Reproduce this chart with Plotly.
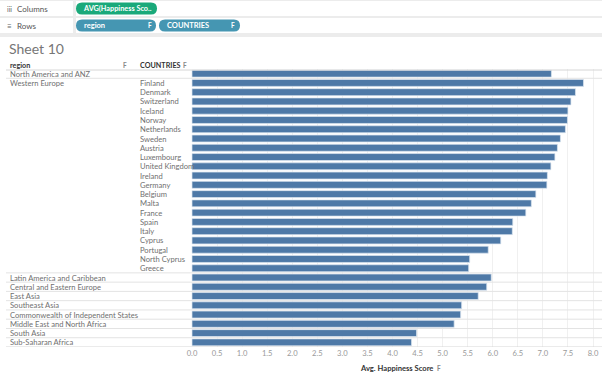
import plotly.graph_objects as go

# ---------------- data ----------------
row_keys = [
    "North America and ANZ",
    "Finland", "Denmark", "Switzerland", "Iceland", "Norway", "Netherlands",
    "Sweden", "Austria", "Luxembourg", "United Kingdom", "Ireland", "Germany",
    "Belgium", "Malta", "France", "Spain", "Italy", "Cyprus", "Portugal",
    "North Cyprus", "Greece",
    "Latin America and Caribbean", "Central and Eastern Europe", "East Asia",
    "Southeast Asia", "Commonwealth of Independent States",
    "Middle East and North Africa", "South Asia", "Sub-Saharan Africa",
]
region_labels = [
    "North America and ANZ", "Western Europe", "", "", "", "", "", "", "", "",
    "", "", "", "", "", "", "", "", "", "", "", "",
    "Latin America and Caribbean", "Central and Eastern Europe", "East Asia",
    "Southeast Asia", "Commonwealth of Independent States",
    "Middle East and North Africa", "South Asia", "Sub-Saharan Africa",
]
country_labels = [
    "",
    "Finland", "Denmark", "Switzerland", "Iceland", "Norway", "Netherlands",
    "Sweden", "Austria", "Luxembourg", "United Kingdom", "Ireland", "Germany",
    "Belgium", "Malta", "France", "Spain", "Italy", "Cyprus", "Portugal",
    "North Cyprus", "Greece",
    "", "", "", "", "", "", "", "",
]
avg_scores = [
    7.17,
    7.81, 7.65, 7.56, 7.50, 7.49, 7.45, 7.35, 7.29, 7.24, 7.16, 7.09, 7.08,
    6.86, 6.77, 6.66, 6.40, 6.39, 6.16, 5.91, 5.54, 5.52,
    5.97, 5.88, 5.71, 5.38, 5.36, 5.23, 4.48, 4.38,
]
tick_vals = [0.0, 0.5, 1.0, 1.5, 2.0, 2.5, 3.0, 3.5, 4.0, 4.5, 5.0, 5.5, 6.0, 6.5, 7.0, 7.5, 8.0]
group_breaks = [0.5, 21.5, 22.5, 23.5, 24.5, 25.5, 26.5, 27.5, 28.5]

# ---------------- geometry ----------------
FW, FH = 602, 380
L, R, T, B = 191, 2, 69, 33
PW, PH = FW - L - R, FH - T - B


def px(x):
    return (x - L) / PW


def py(y):
    return (FH - B - y) / PH


FONT = "Lato, 'Open Sans', sans-serif"
TXT = "#707070"
LBL = 7.6

fig = go.Figure()
fig.add_trace(go.Bar(
    x=avg_scores, y=row_keys, orientation="h",
    marker=dict(color="#4e79a7", line=dict(color="rgba(220,230,240,0.9)", width=0.8)),
    hoverinfo="skip",
))

shapes = []
annos = []


def rect(x0, y0, x1, y1, fill, line=None, lw=0):
    shapes.append(dict(type="rect", xref="paper", yref="paper",
                       x0=px(x0), x1=px(x1), y0=py(y0), y1=py(y1),
                       fillcolor=fill, line=dict(color=line or fill, width=lw),
                       layer="below"))


def pill(x0, y0, x1, y1, color):
    r = (y1 - y0) / 2
    ym = (y0 + y1) / 2

    def p(a, b):
        return f"{px(a):.5f},{py(b):.5f}"
    path = (f"M{p(x0 + r, y0)} L{p(x1 - r, y0)} Q{p(x1, y0)} {p(x1, ym)} "
            f"Q{p(x1, y1)} {p(x1 - r, y1)} L{p(x0 + r, y1)} Q{p(x0, y1)} {p(x0, ym)} "
            f"Q{p(x0, y0)} {p(x0 + r, y0)} Z")
    shapes.append(dict(type="path", xref="paper", yref="paper", path=path,
                       fillcolor=color, line=dict(color=color, width=0)))


def text(x, y, s, size=LBL, color=TXT, anchor="left", bold=False, family=FONT):
    if bold:
        s = f"<b>{s}</b>"
    annos.append(dict(xref="paper", yref="paper", x=px(x), y=py(y), text=s,
                      showarrow=False, xanchor=anchor, yanchor="middle",
                      font=dict(size=size, color=color, family=family)))


def hline(x0, x1, y, color, w=1):
    shapes.append(dict(type="line", xref="paper", yref="paper",
                       x0=px(x0), x1=px(x1), y0=py(y), y1=py(y),
                       line=dict(color=color, width=w)))


# shelf chrome
rect(0, 0, FW, 37, "#ececec")
rect(0, 1, 73, 16, "#ffffff")
rect(76, 1, FW, 16, "#ffffff")
rect(0, 18, 73, 33, "#ffffff")
rect(76, 18, FW, 33, "#ffffff")
text(5, 8.5, "iii", size=7, color="#666")
text(15, 8.5, "Columns", size=8, color="#555")
text(5, 25.5, "≡", size=8, color="#666")
text(15, 25.5, "Rows", size=8, color="#555")
pill(76, 2.5, 157, 14.5, "#1aa97a")
text(81, 8.5, "AVG(Happiness Sco..", size=7.3, color="#ffffff", bold=True)
pill(76, 19.5, 156, 31.5, "#4596b2")
text(82, 25.5, "region", size=7.5, color="#ffffff", bold=True)
text(146, 25.5, "F", size=6.5, color="#ffffff", bold=True)
pill(159, 19.5, 240, 31.5, "#4596b2")
text(165, 25.5, "COUNTRIES", size=7.5, color="#ffffff", bold=True)
text(229, 25.5, "F", size=6.5, color="#ffffff", bold=True)

# sheet title and headers
text(7, 48.5, "Sheet 10", size=14, color="#767676")
text(8, 65, "region", size=7.2, color="#333", bold=True)
text(121, 65, "F", size=6.5, color="#888", bold=True)
text(138, 65, "COUNTRIES", size=7.2, color="#333", bold=True)
text(181, 65.5, "F", size=6.5, color="#888", bold=True)
hline(6, FW, 70, "#d6d6d6")

# row separators (group breaks) across label pane and view
for b in group_breaks:
    shapes.append(dict(type="line", xref="paper", yref="y",
                       x0=px(6), x1=px(FW), y0=b, y1=b,
                       line=dict(color="#e3e3e3", width=1)))
shapes.append(dict(type="line", xref="paper", yref="y",
                   x0=px(6), x1=px(FW), y0=29.5, y1=29.5,
                   line=dict(color="#d6d6d6", width=1)))

# row labels
for key, reg, cty in zip(row_keys, region_labels, country_labels):
    if reg:
        annos.append(dict(xref="paper", yref="y", x=px(8), y=key, text=reg,
                          showarrow=False, xanchor="left", yanchor="middle",
                          font=dict(size=LBL, color=TXT, family=FONT)))
    if cty:
        annos.append(dict(xref="paper", yref="y", x=px(138), y=key, text=cty,
                          showarrow=False, xanchor="left", yanchor="middle",
                          font=dict(size=LBL, color=TXT, family=FONT)))

# axis title
text(396, 368, "Avg. Happiness Score", size=7.6, color="#333", anchor="center", bold=True)
text(435, 368, "F", size=6.5, color="#888", bold=True)

ppu = (593 - 192) / 8.0
fig.update_layout(
    width=FW, height=FH,
    margin=dict(l=L, r=R, t=T, b=B, pad=0),
    paper_bgcolor="#ffffff", plot_bgcolor="#ffffff",
    showlegend=False,
    bargap=0.25,
    font=dict(family=FONT, size=8, color=TXT),
    xaxis=dict(range=[-(192 - L) / ppu, (FW - R - 192) / ppu],
               tickvals=tick_vals, ticktext=[f"{v:.1f}" for v in tick_vals],
               showgrid=True, gridcolor="#f0f0f0", gridwidth=1,
               zeroline=False, showline=False, ticks="",
               tickfont=dict(size=7.6, color="#999999", family=FONT),
               fixedrange=True),
    yaxis=dict(type="category", categoryorder="array", categoryarray=row_keys,
               range=[29.5, -0.5], showticklabels=False, showgrid=False,
               zeroline=False, ticks="", fixedrange=True),
    shapes=shapes,
    annotations=annos,
)

fig.write_html("out.html", post_script="document.body.style.margin='0';",
               config={"displayModeBar": False})
